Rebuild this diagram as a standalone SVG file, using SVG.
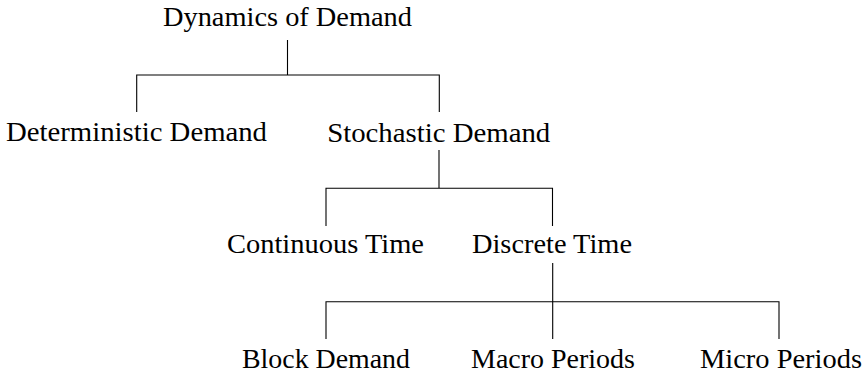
<svg xmlns="http://www.w3.org/2000/svg" width="865" height="374" viewBox="0 0 865 374">
<style>
text{font-family:"Liberation Serif","Times New Roman",serif;font-size:27px;fill:#000;text-anchor:middle}
.c{stroke:#000;stroke-width:1.1;fill:none}
</style>
<rect width="865" height="374" fill="#fff"/>
<g id="connectors" class="c">
<path d="M287.5 40V75M136.7 112V75H439.3V112"/>
<path d="M439 150V188.3M326 226V188.3H552.5V226"/>
<path d="M552.7 263V301.7M326 339V301.7H779V339M552.7 301.7V339"/>
</g>
<g id="n-dynamics"><text x="287.5" y="26" textLength="249" lengthAdjust="spacingAndGlyphs">Dynamics of Demand</text></g>
<g id="n-deterministic"><text x="136.5" y="141" textLength="261" lengthAdjust="spacingAndGlyphs">Deterministic Demand</text></g>
<g id="n-stochastic"><text x="438.7" y="141.5" textLength="223" lengthAdjust="spacingAndGlyphs">Stochastic Demand</text></g>
<g id="n-continuous"><text x="325.5" y="252.5" textLength="197" lengthAdjust="spacingAndGlyphs">Continuous Time</text></g>
<g id="n-discrete"><text x="552" y="252.5" textLength="160" lengthAdjust="spacingAndGlyphs">Discrete Time</text></g>
<g id="n-block"><text x="326" y="368" textLength="168" lengthAdjust="spacingAndGlyphs">Block Demand</text></g>
<g id="n-macro"><text x="553" y="368" textLength="164" lengthAdjust="spacingAndGlyphs">Macro Periods</text></g>
<g id="n-micro"><text x="781" y="368" textLength="162" lengthAdjust="spacingAndGlyphs">Micro Periods</text></g>
</svg>
